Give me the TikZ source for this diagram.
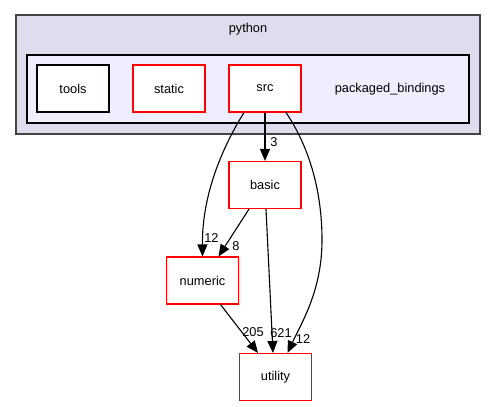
\documentclass[tikz,border=0pt]{standalone}
\usepackage{fontspec}
\setmainfont{Liberation Sans}
\usetikzlibrary{arrows.meta}
\definecolor{outerfill}{HTML}{DDDDEE}
\definecolor{innerfill}{HTML}{EEEEFF}
\definecolor{outerline}{HTML}{444444}
\definecolor{dirred}{HTML}{FF0000}
\begin{document}
\begin{tikzpicture}[x=1pt,y=-1pt,
  every node/.style={font=\fontsize{12.8}{15}\selectfont},
  dirbox/.style={draw=dirred,fill=white,line width=1.1pt,minimum width=72pt,minimum height=47pt,inner sep=0pt},
  plainbox/.style={draw=black,fill=white,line width=1.1pt,minimum width=72pt,minimum height=47pt,inner sep=0pt},
  dep/.style={draw=black,line width=1.1pt,-{Triangle[length=12pt,width=10pt]}},
  lab/.style={inner sep=0pt}]
\useasboundingbox (0,0) rectangle (496,407);
\fill[white] (0,0) rectangle (496,407);
% clusters
\draw[outerline,fill=outerfill,line width=1.3pt] (16,15) rectangle (480,134);
\node (python) at (248,29) {python};
\draw[black,fill=innerfill,line width=1.1pt] (27,55) rectangle (469,123);
\node (pb) at (390,89) {packaged\_bindings};
% nodes
\node[plainbox] (tools) at (73,88.5) {tools};
\node[dirbox] (static) at (169,88.5) {static};
\node[dirbox] (src) at (265,88.5) {src};
\node[dirbox] (basic) at (265,185) {basic};
\node[dirbox] (numeric) at (202.5,280.5) {numeric};
\node[dirbox] (utility) at (275.5,377) {utility};
% edges
\draw[dep] (src.south) -- (basic.north);
\node[lab] (l3) at (274,142) {3};
\draw[dep] ([xshift=-21]src.south) .. controls (222,148) and (202,195) .. (numeric.north);
\node[lab] (l12a) at (211.5,238) {12};
\draw[dep] ([xshift=-16]basic.south) -- ([xshift=16]numeric.north);
\node[lab] (l8) at (236,246) {8};
\draw[dep] ([xshift=1]basic.south) -- ([xshift=-2.5]utility.north);
\node[lab] (l621) at (281,333) {621};
\draw[dep] ([xshift=18]numeric.south) -- ([xshift=-17.5]utility.north);
\node[lab] (l205) at (253,332.5) {205};
\draw[dep] ([xshift=21]src.south) .. controls (306,142) and (322,185) .. (322,240) .. controls (322,290) and (302,322) .. ([xshift=12]utility.north);
\node[lab] (l12b) at (303,339) {12};
\end{tikzpicture}
\end{document}
